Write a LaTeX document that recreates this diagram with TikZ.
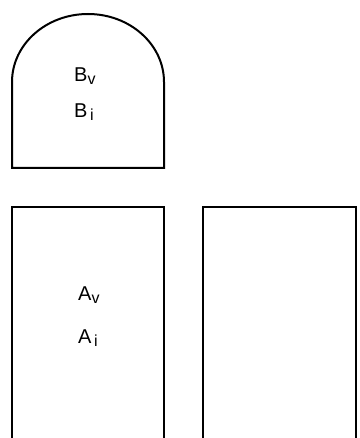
\documentclass[tikz,border=0pt]{standalone}
\usepackage{fontspec}
\setmainfont{Liberation Sans}
\tikzset{
  outline/.style={draw=black, line width=2pt, line join=miter},
  lbl/.style={inner sep=0pt, anchor=base west, font=\fontsize{20}{22}\selectfont},
}
\newcommand{\lowsub}[1]{\raisebox{-3pt}{\fontsize{16}{16}\selectfont #1}}
\begin{document}
\begin{tikzpicture}[x=1pt,y=-1pt]
\useasboundingbox (0,0) rectangle (359,438);
\fill[white] (0,0) rectangle (359,438);
\begin{scope}
\clip (0,0) rectangle (359,438);
% arched box B
\draw[outline] (12,168) -- (12,82) arc[start angle=180, end angle=360, x radius=76, y radius=68] -- (164,168) -- cycle;
% box A
\draw[outline] (12,442) -- (12,207) -- (164,207) -- (164,442);
% right empty box
\draw[outline] (203,442) -- (203,207) -- (356,207) -- (356,442);
\end{scope}
\node[lbl] (bv) at (74,82) {B\lowsub{v}};
\node[lbl] (bi) at (74,118) {B\lowsub{\,i}};
\node[lbl] (av) at (78,300) {A\lowsub{v}};
\node[lbl] (ai) at (78,343) {A\lowsub{\,i}};
\end{tikzpicture}
\end{document}
